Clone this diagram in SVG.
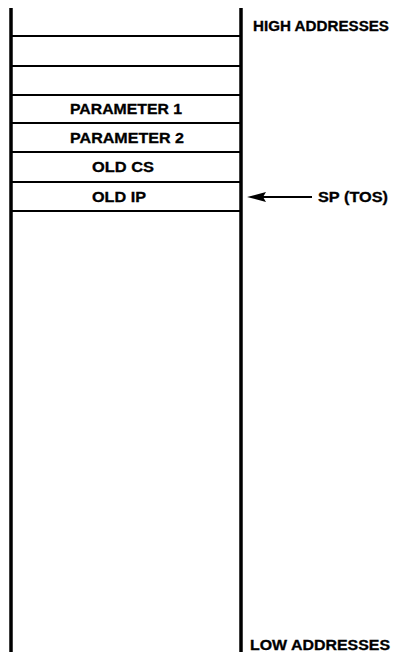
<svg xmlns="http://www.w3.org/2000/svg" width="405" height="657" viewBox="0 0 405 657">
<style>
.t{font-family:"Liberation Sans",Arial,sans-serif;font-weight:bold;font-size:14px;fill:#000;stroke:#000;stroke-width:0.3}
.v{stroke:#000;stroke-width:3.5;fill:none}
.h{stroke:#000;stroke-width:2;fill:none}
</style>
<rect width="405" height="657" fill="#fff"/>
<g id="stack">
<line class="v" x1="11" y1="8" x2="11" y2="652"/>
<line class="v" x1="241" y1="8" x2="241" y2="652"/>
<line class="h" x1="11" y1="36" x2="241" y2="36"/>
<line class="h" x1="11" y1="66" x2="241" y2="66"/>
<line class="h" x1="11" y1="95" x2="241" y2="95"/>
<line class="h" x1="11" y1="123" x2="241" y2="123"/>
<line class="h" x1="11" y1="152" x2="241" y2="152"/>
<line class="h" x1="11" y1="182" x2="241" y2="182"/>
<line class="h" x1="11" y1="211" x2="241" y2="211"/>
</g>
<g id="param1"><text class="t" x="70" y="114" textLength="112" lengthAdjust="spacingAndGlyphs">PARAMETER 1</text></g>
<g id="param2"><text class="t" x="70" y="143" textLength="114" lengthAdjust="spacingAndGlyphs">PARAMETER 2</text></g>
<g id="oldcs"><text class="t" x="92" y="172" textLength="62" lengthAdjust="spacingAndGlyphs">OLD CS</text></g>
<g id="oldip"><text class="t" x="92" y="201.5" textLength="54" lengthAdjust="spacingAndGlyphs">OLD IP</text></g>
<g id="high"><text class="t" x="253" y="31" textLength="136" lengthAdjust="spacingAndGlyphs">HIGH ADDRESSES</text></g>
<g id="low"><text class="t" x="250" y="650" textLength="140" lengthAdjust="spacingAndGlyphs">LOW ADDRESSES</text></g>
<g id="sp"><text class="t" x="318" y="202" textLength="70" lengthAdjust="spacingAndGlyphs">SP (TOS)</text></g>
<g id="connectors">
<line x1="312" y1="197" x2="262" y2="197" stroke="#000" stroke-width="2"/>
<path d="M247,197 L266,192 L263,197 L266,202 Z" fill="#000"/>
</g>
</svg>
